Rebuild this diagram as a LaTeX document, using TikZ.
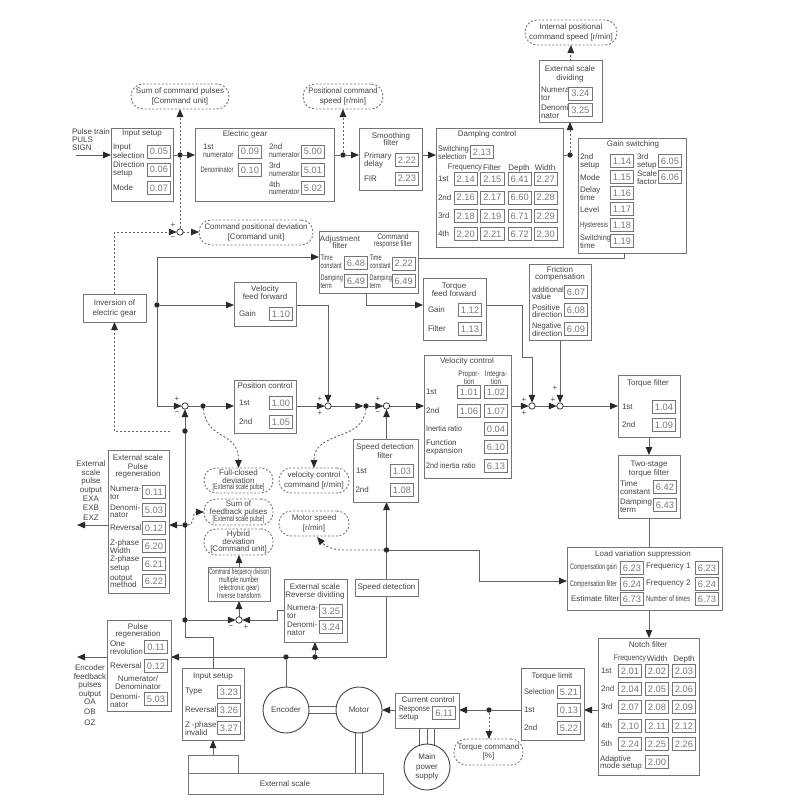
\documentclass[tikz,border=0pt]{standalone}
\usepackage{fontspec}
\setmainfont{Liberation Sans}
\usetikzlibrary{arrows.meta,backgrounds}
\definecolor{lc}{HTML}{747474}
\definecolor{cc}{HTML}{626262}
\definecolor{tc}{HTML}{444444}
\definecolor{vc}{HTML}{7A7A7A}
\definecolor{ah}{HTML}{2A2A2A}
\newcommand{\ft}{\fontsize{8}{7.6}\selectfont}
\newcommand{\cnd}[2]{\scalebox{#1}[1]{#2}}
\newcounter{nn}
\newcommand{\T}[3]{\stepcounter{nn}\node[ttl] (t\thenn) at (#1,#2) {#3};}
\newcommand{\Lb}[3]{\stepcounter{nn}\node[lbl] (l\thenn) at (#1,#2) {#3};}
\newcommand{\V}[3]{\stepcounter{nn}\node[valb] (v\thenn) at (#1,#2) {#3};}
\newcommand{\Bx}[5]{\pgfmathsetmacro\bw{#4-#2}\pgfmathsetmacro\bh{#5-#3}\node[boxb,minimum width=\bw pt,minimum height=\bh pt] (#1) at ({(#2+#4)/2},{(#3+#5)/2}) {};}
\newcommand{\Bb}[6]{\pgfmathsetmacro\bw{#4-#2}\pgfmathsetmacro\bh{#5-#3}\node[bub,minimum width=\bw pt,minimum height=\bh pt] (#1) at ({(#2+#4)/2},{(#3+#5)/2}) {#6};}
\tikzset{
 boxb/.style={draw=lc,line width=1pt,fill=white,inner sep=0pt,outer sep=0pt},
 valb/.style={draw=lc,line width=0.8pt,fill=white,minimum width=23.5pt,minimum height=13pt,inner sep=0pt,outer sep=0pt,text=vc,font=\fontsize{9.3}{9.3}\selectfont},
 ttl/.style={inner sep=0pt,outer sep=0pt,align=center,text=tc,font=\ft},
 lbl/.style={inner sep=0pt,outer sep=0pt,align=left,anchor=west,text=tc,font=\ft},
 bub/.style={draw=lc,line width=0.9pt,dash pattern=on 2pt off 1.8pt,fill=white,rounded corners=12pt,inner sep=0pt,outer sep=0pt,align=center,text=tc,font=\ft},
 dotn/.style={circle,fill=ah,minimum size=5.4pt,inner sep=0pt,outer sep=0pt},
 sumj/.style={circle,draw=ah,line width=0.7pt,fill=white,minimum size=6.4pt,inner sep=0pt,outer sep=0pt},
 con/.style={draw=cc,line width=1pt},
 arr/.style={con,-{Triangle[length=8pt,width=6.5pt,color=ah,fill=ah]}},
 dcon/.style={draw=cc,line width=0.9pt,dash pattern=on 2pt off 2pt},
 darr/.style={dcon,-{Triangle[length=8pt,width=6.5pt,color=ah,fill=ah]}},
 circn/.style={circle,draw=tc,line width=0.9pt,fill=white,minimum size=46pt,inner sep=0pt,outer sep=0pt,align=center,text=tc,font=\ft},
}
\begin{document}
\begin{tikzpicture}[x=1pt,y=-1pt]
\useasboundingbox (0,0) rectangle (800,800);
% ---- boxes
\Bx{is}{111}{128}{173}{201}
\Bx{eg}{195}{128}{334}{201}
\Bx{sm}{359}{128}{422}{190}
\Bx{dc}{436}{128}{563}{247}
\Bx{esd}{539}{61}{602}{122}
\Bx{gs}{578}{138}{686}{253}
\Bx{af}{319}{231}{418}{293}
\Bx{inv}{83}{294}{146}{322}
\Bx{vff}{234}{282}{296}{326}
\Bx{pc}{234}{380}{296}{433}
\Bx{sdf}{353}{439}{418}{502}
\Bx{velc}{424}{355}{511}{478}
\Bx{tff}{423}{278}{486}{340}
\Bx{fc}{529}{264}{591}{340}
\Bx{tf}{618}{375}{680}{437}
\Bx{ts}{618}{455}{680}{518}
\Bx{lv}{567}{547}{722}{610}
\Bx{nf}{598}{638}{699}{775}
\Bx{tl}{521}{668}{584}{740}
\Bx{curc}{395}{693}{459}{728}
\Bx{sd}{355}{579}{418}{596}
\Bx{esr}{284}{579}{347}{642}
\Bx{esp}{108}{450}{169}{593}
\Bx{prg}{107}{620}{171}{711}
\Bx{ist}{182}{668}{244}{740}
\Bx{cfd}{208}{567}{270}{601}
\Bx{exr}{188}{755}{238}{773}
\Bx{exs}{188}{773}{383}{794}
% ---- bubbles
\Bb{scp}{131}{84}{229}{109}{Sum of command pulses\\[2pt][Command unit]}
\Bb{pcs}{303}{84}{383}{109}{\cnd{.96}{Positional command}\\[2pt]speed [r/min]}
\Bb{ipc}{525}{20}{617}{45}{Internal positional\\[2pt]command speed [r/min]}
\Bb{cpd}{199}{220}{313}{245}{\cnd{.96}{Command positional deviation}\\[2pt][Command unit]}
\Bb{fcd}{204}{468}{273}{493}{Full-closed\\deviation\\[-1pt]\cnd{.68}{[External scale pulse]}}
\Bb{vcc}{279}{468}{349}{493}{velocity control\\[2pt]command [r/min]}
\Bb{sfp}{204}{499}{273}{525}{Sum of\\feedback pulses\\[-1pt]\cnd{.68}{[External scale pulse]}}
\Bb{msb}{279}{511}{349}{536}{Motor speed\\[2pt][r/min]}
\Bb{hyb}{204}{529}{273}{555}{Hybrid\\deviation\\{}[Command unit]}
\Bb{tcb}{454}{739}{523}{765}{Torque command\\[2pt][\%]}
% ---- round parts
\node[circn] (enc) at (286,710) {Encoder};
\node[circn] (mot) at (359,710) {Motor};
\node[circn] (mps) at (427,767) {Main\\[2pt]power\\[2pt]supply};
% ---- junctions
\node[dotn] (d1) at (180,155) {};
\node[dotn] (d2) at (343,155) {};
\node[dotn] (d3) at (570,155) {};
\node[dotn] (d4) at (185,431) {};
\node[dotn] (d5) at (203,406) {};
\node[dotn] (d6) at (366,406) {};
\node[dotn] (d7) at (157,305) {};
\node[dotn] (d8) at (489,710) {};
\node[dotn] (d9) at (286,657) {};
\node[dotn] (d10) at (315,657) {};
\node[dotn] (d11) at (386.5,550) {};
\node[dotn] (d12) at (185,525) {};
\node[dotn] (d13) at (185,620) {};
\node[sumj] (j1) at (180,232) {};
\node[sumj] (j2) at (185,406) {};
\node[sumj] (j3) at (328,406) {};
\node[sumj] (j4) at (386.5,406) {};
\node[sumj] (j5) at (532,406) {};
\node[sumj] (j6) at (560,406) {};
\node[sumj] (j7) at (239,620) {};
% ---- free points
\coordinate (pin) at (76,155);
\coordinate (c2) at (170,431);
\coordinate (c3) at (624,258);
\coordinate (c4) at (157,257);
\coordinate (c5) at (157,406);
\coordinate (c6) at (328,305);
\coordinate (c7) at (366,305);
\coordinate (c8) at (522,305);
\coordinate (c9) at (522,357);
\coordinate (c10) at (532,357);
\coordinate (c11) at (386.5,657);
\coordinate (c12) at (479,550);
\coordinate (c13) at (479,581);
\coordinate (c14) at (342,550);
\coordinate (c15) at (317,537);
\coordinate (c17) at (77,525);
\coordinate (c18) at (77,657);
\coordinate (c19) at (213,637);
\coordinate (c20) at (185,637);
\coordinate (c21) at (277,610);
\coordinate (c22) at (277,620);
% ---- connectors
\begin{scope}[on background layer]
\fill[white] (0,0) rectangle (800,800);
\draw[arr] (pin) -- (is.west |- pin);
\draw[con] (is.east |- d1) -- (d1);
\draw[arr] (d1) -- (eg.west |- d1);
\draw[con] (eg.east |- d2) -- (d2);
\draw[arr] (d2) -- (sm.west |- d2);
\draw[arr] (sm.east |- d2) -- (dc.west |- d2);
\draw[con] (dc.east |- d3) -- (d3);
\draw[darr] (d3) -- (esd.south -| d3);
\draw[darr] (esd.north) -- (ipc.south);
\draw[darr] (d1) -- (scp.south -| d1);
\draw[darr] (d2) -- (pcs.south -| d2);
\draw[dcon] (d1) -- (j1);
\draw[darr] (inv.north) |- (j1);
\draw[darr] (j1) -- (cpd.west |- j1);
\draw[darr] (c2) -| (inv.south);
\draw[con] (gs.south -| c3) -- (c3) -- (af.east |- c3);
\draw[arr] (d7) -- (c4) -- (af.west |- c4);
\draw[arr] (d7) -- (vff.west |- d7);
\draw[arr] (d7) -- (c5) -- (j2);
\draw[con] (j2) -- (d5);
\draw[arr] (d5) -- (pc.west |- d5);
\draw[arr] (pc.east |- j3) -- (j3);
\draw[arr] (j3) -- (d6);
\draw[arr] (d6) -- (j4);
\draw[arr] (j4) -- (velc.west |- j4);
\draw[arr] (velc.east |- j5) -- (j5);
\draw[arr] (j5) -- (j6);
\draw[arr] (j6) -- (tf.west |- j6);
\draw[arr] (vff.east |- c6) -- (c6) -- (j3);
\draw[arr] (af.south -| c7) -- (c7) -- (tff.west |- c7);
\draw[arr] (tff.east |- c7) -- (c8) -- (c9) -- (c10) -- (j5);
\draw[arr] (fc.south -| j6) -- (j6);
\draw[arr] (sdf.north -| j4) -- (j4);
\draw[arr] (tf.south) -- (ts.north);
\draw[con] (ts.south) -- (lv.north -| ts.south);
\draw[arr] (lv.south -| ts.south) -- (nf.north -| ts.south);
\draw[arr] (nf.west |- d8) -- (tl.east |- d8);
\draw[con] (tl.west |- d8) -- (d8);
\draw[arr] (d8) -- (curc.east |- d8);
\draw[arr] (curc.west |- d8) -- (mot);
\draw[darr] (d8) -- (tcb.north -| d8);
\draw[con] (curc.south -| mps.108) -- (mps.108);
\draw[con] (curc.south -| mps.north) -- (mps.north);
\draw[con] (curc.south -| mps.72) -- (mps.72);
\draw[con] (enc.9) -- (mot.171);
\draw[con] (enc.-9) -- (mot.-171);
\draw[con] (mot.262) -- (exs.north -| mot.262);
\draw[con] (mot.278) -- (exs.north -| mot.278);
\draw[con] (enc.north) -- (d9);
\draw[arr] (sd.south -| c11) -- (c11) -- (prg.east |- c11);
\draw[arr] (d10) -- (esr.south -| d10);
\draw[arr] (sd.north -| d11) -- (sdf.south -| d11);
\draw[arr] (d11) -- (c12) -- (c13) -- (lv.west |- c13);
\draw[darr] (d11) -- (c14) .. controls (332,550) and (324,545) .. (c15);
\draw[darr] (d5) .. controls (207,442) and (238.5,430) .. (fcd.north);
\draw[darr] (d6) .. controls (364,442) and (314,430) .. (vcc.north);
\draw[arr] (d12) -- (esp.east |- d12);
\draw[arr] (esp.west |- d12) -- (c17);
\draw[arr] (prg.west |- c18) -- (c18);
\draw[darr] (d12) .. controls (195,525) and (192,512) .. (sfp.west);
\draw[arr] (ist.north -| c19) -- (c19) -- (c20) -- (j2);
\draw[arr] (d13) -- (j7);
\draw[arr] (esr.west |- c21) -- (c21) -- (c22) -- (j7);
\draw[arr] (j7) -- (cfd.south -| j7);
\draw[arr] (cfd.north -| j7) -- (hyb.south -| j7);
\draw[arr] (exr.north) -- (ist.south -| exr.north);
\end{scope}
% ---- signs
\T{173}{225}{+}\T{173}{238}{−}
\T{177}{399}{+}\T{177}{413}{−}
\T{320}{399}{+}\T{320}{413}{+}
\T{378}{399}{+}\T{378}{413}{−}
\T{524}{400}{+}\T{524}{413}{+}
\T{553}{400}{+}\T{555}{388}{+}
\T{231}{627}{−}\T{246}{627}{+}
% ---- outer texts
\Lb{72}{139.5}{Pulse train\\[0.6pt]PULS\\[0.6pt]SIGN}
\T{91}{490.5}{External\\[1pt]scale\\[1pt]pulse\\[1pt]output\\[1pt]EXA\\[2pt]EXB\\[2pt]EXZ}
\T{90}{695}{Encoder\\[1pt]feedback\\[1pt]pulses\\[1pt]output\\[1pt]OA\\[2pt]OB\\[3pt]OZ}
% ---- input setup
\T{142}{134}{Input setup}
\Lb{113}{151}{Input\\[1.2pt]selection}\Lb{113}{169.5}{Direction\\[1.2pt]setup}\Lb{113}{188}{Mode}
\V{159}{151.5}{0.05}\V{159}{169.5}{0.06}\V{159}{188}{0.07}
% ---- electric gear
\T{245}{134}{Electric gear}
\Lb{203}{150.5}{1st\\\cnd{.84}{numerator}}\T{217}{170}{\cnd{.72}{Denominator}}
\Lb{269}{150.5}{2nd\\\cnd{.84}{numerator}}\Lb{269}{169.5}{3rd\\\cnd{.84}{numerator}}\Lb{269}{188}{4th\\\cnd{.84}{numerator}}
\V{250}{151.5}{0.09}\V{250}{170}{0.10}\V{313}{151.5}{5.00}\V{313}{170}{5.01}\V{313}{188}{5.02}
% ---- smoothing
\T{391}{139}{Smoothing\\filter}
\Lb{364}{160.5}{Primary\\delay}\Lb{364}{179}{FIR}
\V{407}{160}{2.22}\V{407}{178.5}{2.23}
% ---- damping
\T{487}{134}{Damping control}
\Lb{438}{152.5}{\cnd{.9}{Switching}\\\cnd{.9}{selection}}\V{482}{152}{2.13}
\T{465}{168}{\cnd{.9}{Frequency}}\T{492}{168}{Filter}\T{519}{168}{Depth}\T{545}{168}{Width}
\Lb{438}{179}{1st}\Lb{438}{198}{2nd}\Lb{438}{216}{3rd}\Lb{438}{234}{4th}
\V{465.7}{179}{2.14}\V{492.3}{179}{2.15}\V{519.7}{179}{6.41}\V{545.7}{179}{2.27}
\V{465.7}{197.5}{2.16}\V{492.3}{197.5}{2.17}\V{519.7}{197.5}{6.60}\V{545.7}{197.5}{2.28}
\V{465.7}{216}{2.18}\V{492.3}{216}{2.19}\V{519.7}{216}{6.71}\V{545.7}{216}{2.29}
\V{465.7}{234}{2.20}\V{492.3}{234}{2.21}\V{519.7}{234}{6.72}\V{545.7}{234}{2.30}
% ---- external scale dividing
\T{570}{74}{External scale\\[1pt]dividing}
\Lb{541}{93.5}{Numera-\\tor}\Lb{541}{111.5}{Denomi-\\nator}
\V{580.3}{93.7}{3.24}\V{580.3}{110}{3.25}
% ---- gain switching
\T{633}{144}{Gain switching}
\Lb{580}{161.5}{2nd\\setup}\Lb{580}{178}{Mode}\Lb{580}{193.5}{Delay\\time}\Lb{580}{210}{Level}\Lb{580}{225}{\cnd{.75}{Hysteresis}}\Lb{580}{241.5}{\cnd{.9}{Switching}\\time}
\Lb{637}{161.5}{3rd\\setup}\Lb{637}{177.5}{Scale\\factor}
\V{622}{161}{1.14}\V{622}{177}{1.15}\V{622}{193}{1.16}\V{622}{209}{1.17}\V{622}{225}{1.18}\V{622}{241}{1.19}
\V{670}{161}{6.05}\V{670}{177}{6.06}
% ---- adjustment filter
\T{340}{242}{Adjustment\\filter}
\T{393}{241}{\cnd{.85}{Command}\\\cnd{.75}{response filter}}
\Lb{320.5}{261.5}{\cnd{.7}{Time}\\\cnd{.7}{constant}}\Lb{320.5}{281.5}{\cnd{.7}{Damping}\\\cnd{.7}{term}}
\Lb{369.5}{261.5}{\cnd{.7}{Time}\\\cnd{.7}{constant}}\Lb{369.5}{281.5}{\cnd{.7}{Damping}\\\cnd{.7}{term}}
\V{356}{263}{6.48}\V{356}{281}{6.49}\V{403.7}{263.5}{2.22}\V{403.7}{281}{6.49}
% ---- inversion
\T{114.5}{308.5}{Inversion of\\[2.6pt]electric gear}
% ---- velocity feed forward
\T{265}{292.5}{Velocity\\[0.8pt]feed forward}
\Lb{239}{314}{Gain}\V{281}{314}{1.10}
% ---- position control
\T{265}{386}{Position control}
\Lb{239}{403}{1st}\Lb{239}{422}{2nd}\V{281}{403}{1.00}\V{281}{422}{1.05}
% ---- speed detection filter
\T{385}{451}{Speed detection\\[2pt]filter}
\Lb{356}{471}{1st}\Lb{355.5}{490}{2nd}\V{402}{471}{1.03}\V{402}{490}{1.08}
% ---- velocity control
\T{467}{361}{Velocity control}
\T{469}{378}{\cnd{.8}{Propor-}\\\cnd{.8}{tion}}\T{496}{378}{\cnd{.8}{Integra-}\\\cnd{.8}{tion}}
\Lb{426}{392}{1st}\Lb{426}{411}{2nd}\Lb{426}{429}{\cnd{.9}{Inertia ratio}}\Lb{426}{447.5}{Function\\expansion}\Lb{426}{466}{\cnd{.9}{2nd inertia ratio}}
\V{469}{392}{1.01}\V{496}{392}{1.02}\V{469}{411}{1.06}\V{496}{411}{1.07}\V{496}{429}{0.04}\V{496}{447}{6.10}\V{496}{466}{6.13}
% ---- torque feed forward
\T{454}{289.5}{Torque\\[0.8pt]feed forward}
\Lb{428}{310}{Gain}\Lb{428}{329}{Filter}\V{470}{310}{1.12}\V{470}{329}{1.13}
% ---- friction
\T{560}{274}{Friction\\compensation}
\Lb{532}{293}{\cnd{.93}{additional}\\value}\Lb{532}{311}{Positive\\direction}\Lb{532}{329.5}{\cnd{.93}{Negative}\\direction}
\V{576}{292}{6.07}\V{576}{310}{6.08}\V{576}{329}{6.09}
% ---- torque filter
\T{648}{383}{Torque filter}
\Lb{622}{407}{1st}\Lb{622}{425}{2nd}\V{664}{407}{1.04}\V{664}{425}{1.09}
% ---- two-stage
\T{649}{469}{Two-stage\\[2pt]torque filter}
\Lb{620}{487.5}{Time\\constant}\Lb{620}{505.5}{Damping\\term}
\V{665}{487}{6.42}\V{665}{505}{6.43}
% ---- load variation
\T{643}{554}{Load variation suppression}
\Lb{570}{567}{\cnd{.68}{Compensation gain}}\Lb{570}{584}{\cnd{.68}{Compensation filter}}\Lb{571}{599}{Estimate filter}
\Lb{646}{567}{Frequency 1}\Lb{646}{584}{Frequency 2}\Lb{646}{599}{\cnd{.75}{Number of times}}
\V{632}{568}{6.23}\V{632}{584}{6.24}\V{632}{599}{6.73}\V{707}{568}{6.23}\V{707}{584}{6.24}\V{707}{599}{6.73}
% ---- notch
\T{648}{645}{Notch filter}
\T{630}{659}{\cnd{.85}{Frequency}}\T{657}{659}{Width}\T{684}{659}{Depth}
\Lb{601}{671}{1st}\Lb{601}{689}{2nd}\Lb{601}{707}{3rd}\Lb{601}{726}{4th}\Lb{601}{744}{5th}
\Lb{600}{763}{Adaptive\\mode setup}
\V{630}{671}{2.01}\V{657}{671}{2.02}\V{684}{671}{2.03}
\V{630}{689}{2.04}\V{657}{689}{2.05}\V{684}{689}{2.06}
\V{630}{707}{2.07}\V{657}{707}{2.08}\V{684}{707}{2.09}
\V{630}{726}{2.10}\V{657}{726}{2.11}\V{684}{726}{2.12}
\V{630}{744}{2.24}\V{657}{744}{2.25}\V{684}{744}{2.26}
\V{657}{762}{2.00}
% ---- torque limit
\T{552}{676}{Torque limit}
\Lb{524}{692}{\cnd{.93}{Selection}}\Lb{524}{710}{1st}\Lb{524}{728}{2nd}
\V{569}{692}{5.21}\V{569}{710}{0.13}\V{569}{728}{5.22}
% ---- current control
\T{428}{700}{Current control}
\Lb{399}{713.5}{\cnd{.86}{Response}\\setup}\V{444}{713}{6.11}
% ---- speed detection
\T{386.5}{587.5}{Speed detection}
% ---- external scale reverse dividing
\T{315}{591.5}{External scale\\[1pt]Reverse dividing}
\Lb{287}{611.5}{Numera-\\[0.5pt]tor}\Lb{287}{628.5}{Denomi-\\[0.5pt]nator}
\V{331}{611}{3.25}\V{331}{627}{3.24}
% ---- external scale pulse regeneration
\T{138}{466.5}{External scale\\[1pt]Pulse\\regeneration}
\Lb{110}{493}{Numera-\\tor}\Lb{110}{511}{Denomi-\\nator}\Lb{110}{528}{Reversal}\Lb{110}{547}{Z-phase\\[0.6pt]Width}\Lb{110}{564}{Z-phase\\[0.6pt]setup}\Lb{110}{581.5}{output\\method}
\V{154}{492}{0.11}\V{154}{510}{5.03}\V{154}{528}{0.12}\V{154}{546}{6.20}\V{154}{564}{6.21}\V{154}{581}{6.22}
% ---- command freq box
\T{239}{584}{\cnd{.58}{Command frequency division}\\[0.4pt]\cnd{.7}{multiple number}\\[0.4pt]\cnd{.7}{(electronic gear)}\\[0.4pt]\cnd{.7}{Inverse transform}}
% ---- pulse regeneration
\T{138}{631}{Pulse\\regeneration}
\Lb{110}{647.5}{One\\\cnd{.95}{revolution}}\Lb{110}{666}{Reversal}
\T{138}{682.5}{Numerator/\\Denominator}\Lb{110}{700.5}{Denomi-\\nator}
\V{156}{647}{0.11}\V{156}{666}{0.12}\V{156}{699}{5.03}
% ---- input setup 2
\T{213}{677}{Input setup}
\Lb{185}{692}{Type}\Lb{185}{710}{Reversal}\Lb{185}{728.5}{Z -phase\\invalid}
\V{229}{692}{3.23}\V{229}{710}{3.26}\V{229}{728}{3.27}
% ---- external scale
\T{285}{784}{External scale}
\end{tikzpicture}
\end{document}
